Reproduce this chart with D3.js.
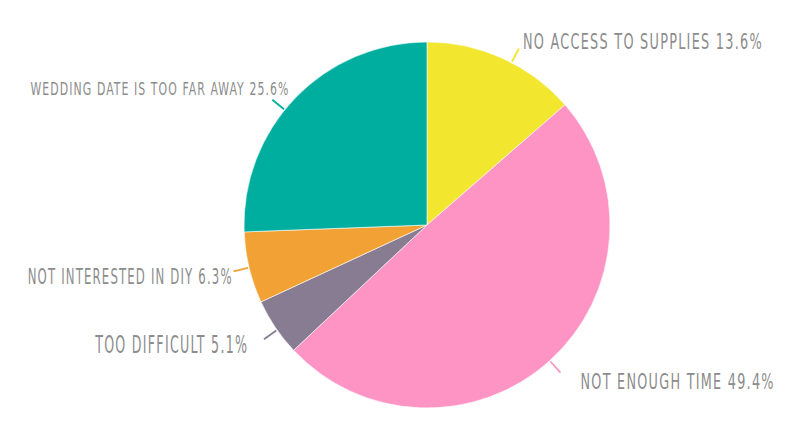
<!DOCTYPE html>
<html>
<head>
<meta charset="utf-8">
<script src="https://cdn.jsdelivr.net/npm/d3@7"></script>
<style>
  body { margin: 0; background: #fff; }
  text { font-family: "Liberation Sans Narrow", "DejaVu Sans Condensed", "Liberation Sans", sans-serif; }
</style>
</head>
<body>
<div id="chart"></div>
<script>
// data, clockwise from 12 o'clock
var reasons = ["NO ACCESS TO SUPPLIES", "NOT ENOUGH TIME", "TOO DIFFICULT",
               "NOT INTERESTED IN DIY", "WEDDING DATE IS TOO FAR AWAY"];
var shares = [13.6, 49.4, 5.1, 6.3, 25.6];
var colors = ["#f2e62f", "#fd94c4", "#877c92", "#f2a234", "#00ae9f"];

var width = 800,
    height = 432,
    cx = 427,
    cy = 225,
    radius = 183;

// label layout: leader angle nudge (deg), text offset from leader end, size, target width
var labelLayout = [
    { angle: 27.5, dx: 4, dy: 1, size: 22, len: 239, anchor: "start" },
    { angle: null, dx: 20, dy: 16, size: 22, len: 193, anchor: "start" },
    { angle: 235, dx: -17, dy: 14, size: 25, len: 152, anchor: "end" },
    { angle: null, dx: -2, dy: 13, size: 22, len: 204, anchor: "end" },
    { angle: 309, dx: 16, dy: -5, size: 18, len: 258, anchor: "end" }
];

var svg = d3.select("#chart").append("svg")
    .attr("width", width)
    .attr("height", height);

var g = svg.append("g")
    .attr("transform", "translate(" + cx + "," + cy + ")");

var pie = d3.pie()
    .sort(null)
    .value(function(d) { return d; });

var arc = d3.arc()
    .innerRadius(0)
    .outerRadius(radius);

var arcs = pie(shares);

g.selectAll("path.slice")
    .data(arcs)
    .enter().append("path")
    .attr("class", "slice")
    .attr("d", arc)
    .attr("fill", function(d, i) { return colors[i]; })
    .attr("stroke", "#fff")
    .attr("stroke-width", 0.6);

function leaderAngle(d, i) {
    var a = labelLayout[i].angle;
    if (a === null) a = (d.startAngle + d.endAngle) / 2 * 180 / Math.PI;
    return a * Math.PI / 180;
}

function polar(a, r) {
    return [Math.sin(a) * r, -Math.cos(a) * r];
}

g.selectAll("line.leader")
    .data(arcs)
    .enter().append("line")
    .attr("class", "leader")
    .attr("x1", function(d, i) { return polar(leaderAngle(d, i), radius + 1)[0]; })
    .attr("y1", function(d, i) { return polar(leaderAngle(d, i), radius + 1)[1]; })
    .attr("x2", function(d, i) { return polar(leaderAngle(d, i), radius + 16)[0]; })
    .attr("y2", function(d, i) { return polar(leaderAngle(d, i), radius + 16)[1]; })
    .attr("stroke", function(d, i) { return colors[i]; })
    .attr("stroke-width", 1.8);

var labels = g.selectAll("text.label")
    .data(arcs)
    .enter().append("text")
    .attr("class", "label")
    .attr("text-anchor", function(d, i) { return labelLayout[i].anchor; })
    .attr("font-size", function(d, i) { return labelLayout[i].size; })
    .attr("letter-spacing", function(d, i) { return labelLayout[i].size * 0.09; })
    .attr("fill", "#8c8c8c")
    .text(function(d, i) { return reasons[i] + " " + d3.format(".1f")(shares[i]) + "%"; });

// squeeze each label horizontally to the condensed width seen in the original
labels.each(function(d, i) {
    var el = d3.select(this),
        L = labelLayout[i],
        p = polar(leaderAngle(d, i), radius + 16),
        ls = +el.attr("letter-spacing"),
        natural = this.getComputedTextLength() - ls,
        s = L.len / natural;
    if (L.anchor === "end") el.attr("x", ls);
    el.attr("transform", "translate(" + (p[0] + L.dx) + "," + (p[1] + L.dy) + ") scale(" + s.toFixed(3) + ",1)");
});
</script>
</body>
</html>
